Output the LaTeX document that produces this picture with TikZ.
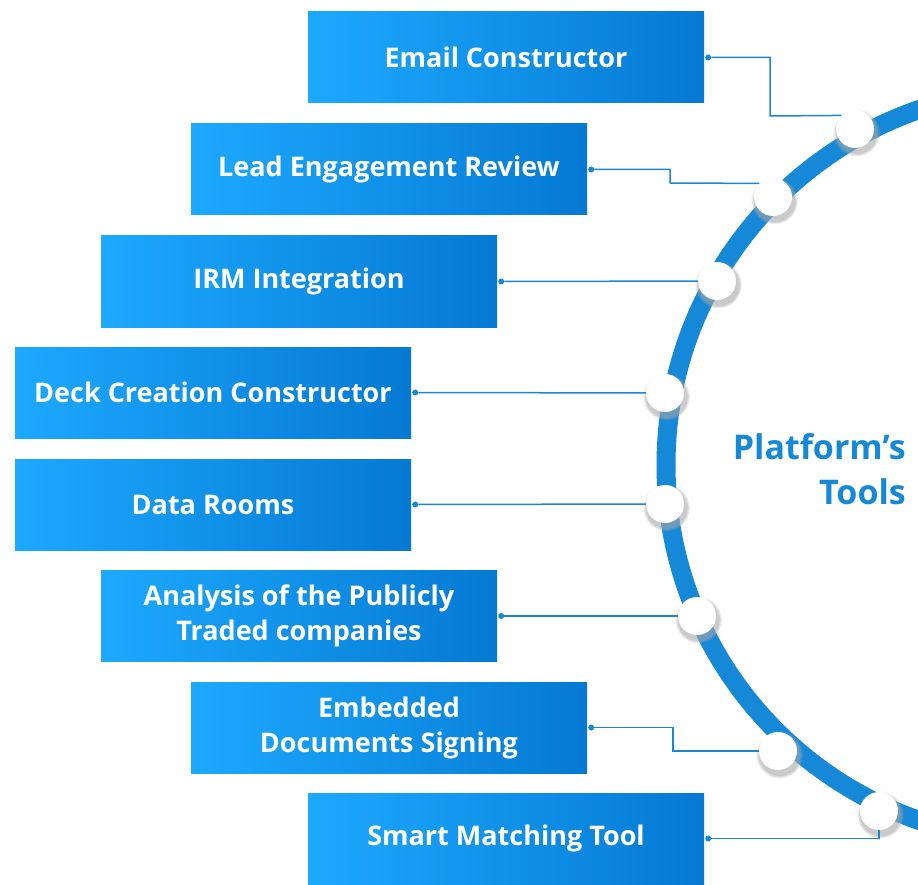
\documentclass[tikz,border=0pt]{standalone}
\usepackage{fontspec}
\setmainfont{Open Sans}
\usetikzlibrary{shadows}

\definecolor{boxlight}{HTML}{1CA9FE}
\definecolor{boxdark}{HTML}{0579D3}
\definecolor{ringblue}{HTML}{1589D8}
\definecolor{linkblue}{HTML}{1A86D6}

\tikzset{
  toolbox/.style={minimum width=396pt, minimum height=91pt, inner sep=0pt,
    left color=boxlight, right color=boxdark, text=white, align=center,
    font=\bfseries\fontsize{27}{35}\selectfont},
  ringdot/.style={circle, fill=white, minimum size=38pt, inner sep=0pt,
    circular drop shadow={shadow xshift=1pt, shadow yshift=-3pt, shadow scale=1.25, fill=black!35, opacity=.6}},
  enddot/.style={circle, fill=linkblue, minimum size=6pt, inner sep=0pt},
  link/.style={linkblue, line width=1.5pt},
}

\begin{document}
\begin{tikzpicture}[x=1pt,y=-1pt]
\useasboundingbox (0,0) rectangle (918,885);
% ring
\begin{scope}
\clip (0,0) rectangle (918,885);
\draw[ringblue, line width=19pt] (1042,465) circle [radius=376pt];
\end{scope}
\node[align=right, anchor=east, inner sep=0pt, text=ringblue,
  font=\bfseries\fontsize{34}{45}\selectfont] (title) at (906,469) {Platform’s\\Tools};
% boxes
\node[toolbox] (b1) at (506,57.5) {Email Constructor};
\node[toolbox] (b2) at (389,169.5) {Lead Engagement Review};
\node[toolbox] (b3) at (299,281.5) {IRM Integration};
\node[toolbox] (b4) at (213,392.5) {Deck Creation Constructor};
\node[toolbox] (b5) at (213,504.5) {Data Rooms};
\node[toolbox] (b6) at (299,616) {Analysis of the Publicly\\Traded companies};
\node[toolbox] (b7) at (389,727.5) {Embedded\\Documents Signing};
\node[toolbox] (b8) at (506,838.5) {Smart Matching Tool};
% end points at the boxes
\node[enddot] (s1) at ([xshift=4pt]b1.east) {};
\node[enddot] (s2) at ([xshift=4pt]b2.east) {};
\node[enddot] (s3) at ([xshift=4pt]b3.east) {};
\node[enddot] (s4) at ([xshift=4pt]b4.east) {};
\node[enddot] (s5) at ([xshift=4pt]b5.east) {};
\node[enddot] (s6) at ([xshift=4pt]b6.east) {};
\node[enddot] (s7) at ([xshift=4pt]b7.east) {};
\node[enddot] (s8) at ([xshift=4pt]b8.east) {};
% dots on the ring
\node[ringdot] (d1) at (855,129) {};
\node[ringdot] (d2) at (773,197) {};
\node[ringdot] (d3) at (717,281) {};
\node[ringdot] (d4) at (665,393) {};
\node[ringdot] (d5) at (665,504) {};
\node[ringdot] (d6) at (697,616) {};
\node[ringdot] (d7) at (778,751) {};
\node[ringdot] (d8) at (879,811) {};
% links
\draw[link] (s1) -| (770,116) -- (d1.north west);
\draw[link] (s2) -| (670,183) -- (d2.north west);
\draw[link] (s3) -- (d3);
\draw[link] (s4) -- (d4);
\draw[link] (s5) -- (d5);
\draw[link] (s6) -- (d6);
\draw[link] (s7) -| (673,751) -- (d7);
\draw[link] (s8) -| (d8);
\end{tikzpicture}
\end{document}
